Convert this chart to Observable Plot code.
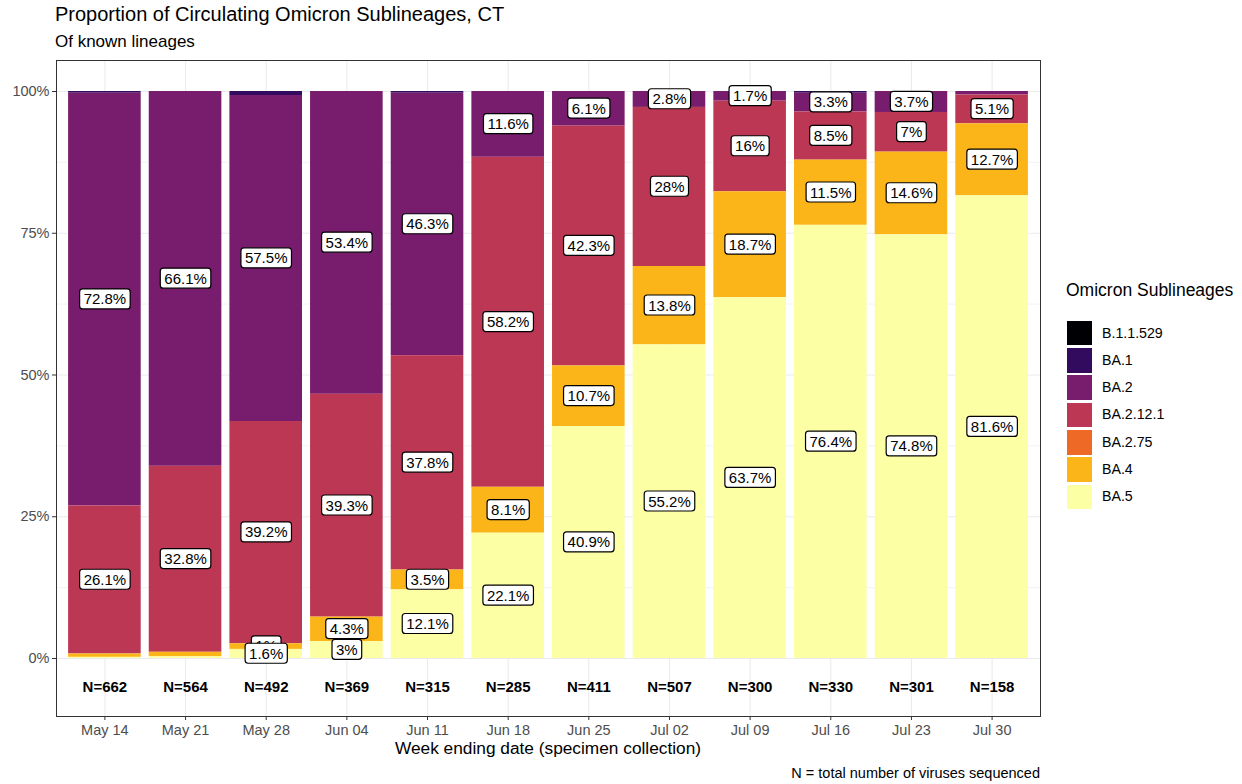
<!DOCTYPE html>
<html>
<head>
<meta charset="utf-8">
<script src="https://cdn.jsdelivr.net/npm/d3@7"></script>
<script src="https://cdn.jsdelivr.net/npm/@observablehq/plot@0.6"></script>
<style>
  html, body { margin: 0; padding: 0; background: white; }
  #wrap { position: relative; width: 1242px; height: 784px; font-family: "Liberation Sans", Arial, sans-serif; color: #000; overflow: hidden; }
  .abs { position: absolute; white-space: nowrap; }
</style>
</head>
<body>
<div id="wrap"></div>
<script>
// ---- Data ----
const weeks = ["May 14","May 21","May 28","Jun 04","Jun 11","Jun 18","Jun 25","Jul 02","Jul 09","Jul 16","Jul 23","Jul 30"];
const nTotals = [662, 564, 492, 369, 315, 285, 411, 507, 300, 330, 301, 158];
const lineages = ["B.1.1.529","BA.1","BA.2","BA.2.12.1","BA.2.75","BA.4","BA.5"];
const lineageColors = ["#000004","#320A5E","#781C6D","#BB3754","#ED6925","#FCB519","#FCFFA4"];
const pctB11529 = [0, 0, 0, 0, 0, 0, 0, 0, 0, 0, 0, 0];
const pctBA1    = [0.3, 0, 0.7, 0, 0.3, 0, 0, 0, 0, 0.3, 0, 0];
const pctBA2    = [72.8, 66.1, 57.5, 53.4, 46.3, 11.6, 6.1, 2.8, 1.7, 3.3, 3.7, 0.6];
const pctBA2121 = [26.1, 32.8, 39.2, 39.3, 37.8, 58.2, 42.3, 28, 16, 8.5, 7, 5.1];
const pctBA275  = [0, 0, 0, 0, 0, 0, 0, 0, 0, 0, 0, 0];
const pctBA4    = [0.6, 0.8, 1.0, 4.3, 3.5, 8.1, 10.7, 13.8, 18.7, 11.5, 14.6, 12.7];
const pctBA5    = [0.2, 0.3, 1.6, 3, 12.1, 22.1, 40.9, 55.2, 63.7, 76.4, 74.8, 81.6];
const yTicks = [0, 0.25, 0.5, 0.75, 1];
const yMinor = [0.125, 0.375, 0.625, 0.875];

const series = [pctB11529, pctBA1, pctBA2, pctBA2121, pctBA275, pctBA4, pctBA5];
const rows = [];
weeks.forEach((w, i) => {
  lineages.forEach((l, j) => {
    if (series[j][i] > 0) rows.push({week: w, lineage: l, value: series[j][i]});
  });
});
const nRows = weeks.map((w, i) => ({week: w, n: nTotals[i]}));
const stackOrder = lineages.slice().reverse(); // BA.5 at bottom

// ---- Layout ----
const wrap = document.getElementById("wrap");
function addText(txt, css) {
  const d = document.createElement("div");
  d.className = "abs";
  d.textContent = txt;
  Object.assign(d.style, css);
  wrap.appendChild(d);
  return d;
}
addText("Proportion of Circulating Omicron Sublineages, CT", {left: "55px", top: "3px", fontSize: "20px"});
addText("Of known lineages", {left: "55px", top: "32px", fontSize: "17px"});

const W = 1045, H = 720;
const chart = Plot.plot({
  width: W,
  height: H,
  marginTop: 10,
  marginBottom: 54,
  marginLeft: 56,
  marginRight: 5,
  style: {fontFamily: "'Liberation Sans', Arial, sans-serif", fontSize: "13px", background: "white", overflow: "visible"},
  x: {domain: weeks, paddingInner: 0.1, paddingOuter: 0.15, round: false, label: null},
  y: {domain: [-0.1023, 1.0547], label: null},
  color: {domain: lineages, range: lineageColors},
  marks: [
    Plot.gridY(yMinor, {stroke: "#EBEBEB", strokeOpacity: 1, strokeWidth: 0.6}),
    Plot.gridY(yTicks, {stroke: "#EBEBEB", strokeOpacity: 1, strokeWidth: 1.1}),
    Plot.gridX({stroke: "#EBEBEB", strokeOpacity: 1, strokeWidth: 1.1}),
    Plot.barY(rows, Plot.stackY({x: "week", y: "value", fill: "lineage", order: stackOrder, offset: "normalize", inset: 0})),
    Plot.text(rows, Plot.stackY({
      x: "week", y: "value", z: "lineage", order: stackOrder, offset: "normalize",
      text: d => d.value >= 1 ? d.value + "%" : "",
      fill: "black", fontSize: 15, className: "seglabel"
    })),
    Plot.text(nRows, {x: "week", y: -0.051, text: d => "N=" + d.n, fontWeight: "bold", fontSize: 15, fill: "black"}),
    Plot.frame({stroke: "#333333", strokeWidth: 1}),
    Plot.axisY({ticks: yTicks, tickFormat: d => Math.round(d * 100) + "%", tickSize: 4, tickPadding: 3, fontSize: 14.5, fill: "#4D4D4D", stroke: "#333333", label: null}),
    Plot.axisX({tickSize: 4, tickPadding: 4, fontSize: 14.5, fill: "#4D4D4D", stroke: "#333333", label: null})
  ]
});
chart.style.position = "absolute";
chart.style.left = "0px";
chart.style.top = "50px";
wrap.appendChild(chart);

// boxes behind segment labels (from the rendered text positions)
const svgNS = "http://www.w3.org/2000/svg";
chart.querySelectorAll("g.seglabel text").forEach(t => {
  if (!t.textContent) { t.remove(); return; }
  const b = t.getBBox();
  const r = document.createElementNS(svgNS, "rect");
  const cy = b.y + b.height / 2;
  r.setAttribute("x", b.x - 4);
  r.setAttribute("y", cy - 10);
  r.setAttribute("width", b.width + 8);
  r.setAttribute("height", 20);
  r.setAttribute("rx", 3);
  r.setAttribute("fill", "white");
  r.setAttribute("stroke", "black");
  r.setAttribute("stroke-width", 1.2);
  const tr = t.getAttribute("transform");
  if (tr) r.setAttribute("transform", tr);
  t.parentNode.insertBefore(r, t);
});

addText("Week ending date (specimen collection)", {left: "56px", width: "984px", textAlign: "center", top: "738px", fontSize: "17.3px"});
addText("N = total number of viruses sequenced", {right: "202px", top: "765px", fontSize: "14.5px"});

// ---- Legend ----
addText("Omicron Sublineages", {left: "1066px", top: "280px", fontSize: "17.5px"});
lineages.forEach((l, i) => {
  const cy = 333 + i * 27.33;
  const k = document.createElement("div");
  k.className = "abs";
  Object.assign(k.style, {left: "1067px", top: (cy - 12.3) + "px", width: "24.6px", height: "24.6px", background: lineageColors[i]});
  wrap.appendChild(k);
  addText(l, {left: "1102px", top: (cy - 8.5) + "px", fontSize: "14.2px"});
});
</script>
</body>
</html>
